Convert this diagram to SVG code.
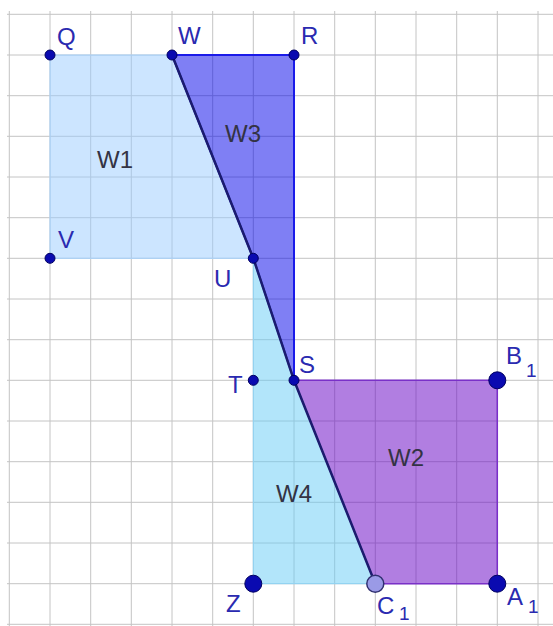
<svg xmlns="http://www.w3.org/2000/svg" width="553" height="626" viewBox="0 0 553 626">
<style>
.grid line{stroke:#c4c4c4;stroke-width:1}
.lbl{font-family:"Liberation Sans",Arial,sans-serif;font-size:24px;fill:#2a2ab0}
.sub{font-family:"Liberation Sans",Arial,sans-serif;font-size:19px;fill:#2a2ab0}
.name{font-family:"Liberation Sans",Arial,sans-serif;font-size:24px;fill:#333344}
.pt{fill:#0a0ab0;stroke:#000060;stroke-width:1}
.diag{stroke:#1c1c6e;stroke-width:2.5;fill:none;stroke-linecap:round}
</style>
<rect width="553" height="626" fill="#ffffff"/>
<g class="grid">
<line x1="7" y1="14.3" x2="553" y2="14.3"/>
<line x1="7" y1="55" x2="553" y2="55"/>
<line x1="7" y1="95.7" x2="553" y2="95.7"/>
<line x1="7" y1="136.3" x2="553" y2="136.3"/>
<line x1="7" y1="177" x2="553" y2="177"/>
<line x1="7" y1="217.7" x2="553" y2="217.7"/>
<line x1="7" y1="258.3" x2="553" y2="258.3"/>
<line x1="7" y1="299" x2="553" y2="299"/>
<line x1="7" y1="339.7" x2="553" y2="339.7"/>
<line x1="7" y1="380.3" x2="553" y2="380.3"/>
<line x1="7" y1="421" x2="553" y2="421"/>
<line x1="7" y1="461.7" x2="553" y2="461.7"/>
<line x1="7" y1="502.3" x2="553" y2="502.3"/>
<line x1="7" y1="543" x2="553" y2="543"/>
<line x1="7" y1="583.7" x2="553" y2="583.7"/>
<line x1="7" y1="624.3" x2="553" y2="624.3"/>
<line x1="9.3" y1="11" x2="9.3" y2="626"/>
<line x1="50" y1="11" x2="50" y2="626"/>
<line x1="90.7" y1="11" x2="90.7" y2="626"/>
<line x1="131.3" y1="11" x2="131.3" y2="626"/>
<line x1="172" y1="11" x2="172" y2="626"/>
<line x1="212.7" y1="11" x2="212.7" y2="626"/>
<line x1="253.3" y1="11" x2="253.3" y2="626"/>
<line x1="294" y1="11" x2="294" y2="626"/>
<line x1="334.7" y1="11" x2="334.7" y2="626"/>
<line x1="375.3" y1="11" x2="375.3" y2="626"/>
<line x1="416" y1="11" x2="416" y2="626"/>
<line x1="456.7" y1="11" x2="456.7" y2="626"/>
<line x1="497.3" y1="11" x2="497.3" y2="626"/>
<line x1="538" y1="11" x2="538" y2="626"/>
</g>
<g id="W1">
<polygon points="50,55 172,55 253.3,258.3 50,258.3" fill="#99ccff" fill-opacity="0.5" stroke="#a8d2fa" stroke-width="1"/>
<text class="name" x="97" y="168">W1</text>
</g>
<g id="W3">
<polygon points="172,55 294,55 294,380.3 253.3,258.3" fill="#0000ea" fill-opacity="0.5" stroke="#1a1ae8" stroke-width="2"/>
<text class="name" x="225" y="142">W3</text>
</g>
<g id="W4">
<polygon points="253.3,258.3 294,380.3 375.3,583.7 253.3,583.7" fill="#66ccf5" fill-opacity="0.5" stroke="#8fd4f5" stroke-width="1"/>
<text class="name" x="276" y="502">W4</text>
</g>
<g id="W2">
<polygon points="294,380.3 497.3,380.3 497.3,583.7 375.3,583.7" fill="#6a08c6" fill-opacity="0.52" stroke="#7a30c8" stroke-width="1.5"/>
<text class="name" x="388" y="466" fill="#301848">W2</text>
</g>
<g id="connectors">
<polyline class="diag" points="172,55 253.3,258.3 294,380.3 375.3,583.7"/>
</g>
<g id="Q"><circle class="pt" cx="50" cy="55" r="5"/><text class="lbl" x="57" y="45">Q</text></g>
<g id="W"><circle class="pt" cx="172" cy="55" r="5"/><text class="lbl" x="178" y="44">W</text></g>
<g id="R"><circle class="pt" cx="294" cy="55" r="5"/><text class="lbl" x="301" y="44">R</text></g>
<g id="V"><circle class="pt" cx="50" cy="258.3" r="5"/><text class="lbl" x="58" y="248">V</text></g>
<g id="U"><circle class="pt" cx="253.3" cy="258.3" r="5"/><text class="lbl" x="214" y="287">U</text></g>
<g id="T"><circle class="pt" cx="253.3" cy="380.3" r="5"/><text class="lbl" x="228" y="393">T</text></g>
<g id="S"><circle class="pt" cx="294" cy="380.3" r="5"/><text class="lbl" x="299" y="373">S</text></g>
<g id="B1"><circle class="pt" cx="497.3" cy="380.3" r="8.5"/><text class="lbl" x="506" y="364">B</text><text class="sub" x="526" y="377">1</text></g>
<g id="Z"><circle class="pt" cx="253.3" cy="583.7" r="8.5"/><text class="lbl" x="226" y="612">Z</text></g>
<g id="C1"><circle cx="375.3" cy="583.7" r="8.5" fill="#9a9ae6" stroke="#303070" stroke-width="1.5"/><text class="lbl" x="377" y="614" fill="#8888cc">C</text><text class="sub" x="399" y="620" fill="#8888cc" font-size="17">1</text></g>
<g id="A1"><circle class="pt" cx="497.3" cy="583.7" r="8.5"/><text class="lbl" x="507" y="605">A</text><text class="sub" x="528" y="613">1</text></g>
</svg>
